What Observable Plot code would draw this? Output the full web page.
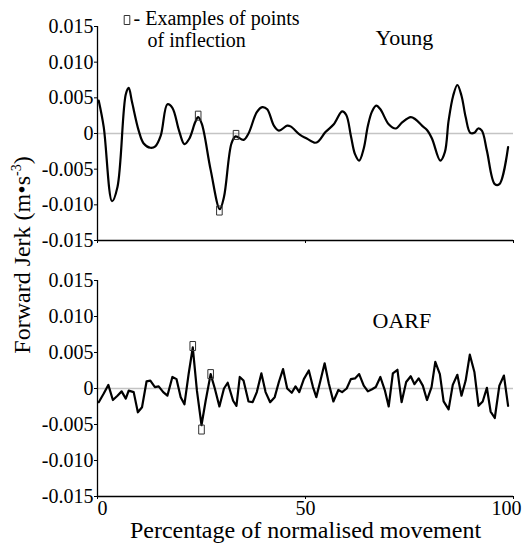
<!DOCTYPE html>
<html>
<head>
<meta charset="utf-8">
<script src="https://cdn.jsdelivr.net/npm/d3@7"></script>
<script src="https://cdn.jsdelivr.net/npm/@observablehq/plot@0.6"></script>
<style>
  html, body { margin: 0; padding: 0; background: #fff; }
  #wrap { position: relative; width: 526px; height: 545px; overflow: hidden; font-family: "Liberation Serif", "Times New Roman", serif; color: #000; }
  #top, #bottom { position: absolute; left: 0; }
  #top { top: 0; }
  #bottom { top: 255px; }
  #ytitle { position: absolute; left: 22px; top: 255px; transform: translate(-50%, -50%) rotate(-90deg); white-space: nowrap; font-family: "Liberation Serif", serif; font-size: 24px; line-height: 1; }
  #ytitle sup { font-size: 14px; vertical-align: 9px; line-height: 0; }
  svg text { font-family: "Liberation Serif", serif; }
</style>
</head>
<body>
<div id="wrap">
  <div id="top"></div>
  <div id="bottom"></div>
  <div id="ytitle">Forward Jerk (m•s<sup>-3</sup>)</div>
</div>
<script>
// ---- data ----
const youngX = [0.3,1.5,3.5,4.8,6.8,7.5,8.3,9.9,11.1,12.7,13.9,15.2,16.8,18.0,19.6,20.9,22.1,23.5,24.2,25.1,27.2,29.4,30.4,32.2,33.2,35.1,36.3,38.3,39.6,40.8,42.4,43.6,45.6,46.4,48.7,50.3,52.3,53.1,54.8,56.8,58.8,59.8,60.9,61.9,62.9,64.0,65.0,66.0,67.0,68.0,70.0,71.7,73.3,75.3,76.4,78.0,79.2,80.4,82.4,83.5,84.4,85.5,86.5,87.5,88.5,89.6,90.6,91.5,92.4,93.6,95.5,96.6,98.7];
const youngY = [0.0046,0.0009,-0.0095,-0.0075,0.0055,0.0064,0.0044,0.0004,-0.0014,-0.002,-0.0018,-0.0003,0.0041,0.0036,0.0004,-0.0015,-0.0007,0.0016,0.0023,0.0013,-0.0051,-0.0106,-0.0089,-0.0014,-0.0004,-0.0009,0,0.003,0.0037,0.0034,0.0011,0.0004,0.0011,0.001,-0.0002,-0.0007,-0.0013,-0.0011,0.0002,0.0013,0.0031,0.0026,-0.0003,-0.0029,-0.0038,-0.0021,0.0011,0.0031,0.0039,0.0034,0.0013,0.0007,0.0016,0.0023,0.002,0.0011,0.0005,-0.0007,-0.0038,-0.0026,0.0018,0.0053,0.0068,0.0053,0.0023,0.0001,0.0001,0.0007,0.0004,-0.0024,-0.0071,-0.0071,-0.0019];

const oarfX = [0.3,1.5,2.6,3.7,4.8,5.8,6.8,7.5,8.7,9.7,10.7,11.8,12.7,13.8,14.7,15.8,16.8,18.0,19.0,20.0,20.9,21.9,22.9,23.9,25.0,26.0,27.2,28.2,29.3,30.4,31.3,32.6,33.4,34.2,35.1,36.3,37.3,38.3,39.4,40.4,41.5,42.6,43.6,44.6,45.6,46.7,47.6,48.5,49.6,50.8,51.8,52.6,53.6,54.6,55.6,56.7,57.9,58.8,59.9,60.9,61.9,62.9,64.0,65.0,66.0,66.9,68.0,69.1,70.0,71.0,72.1,73.1,74.2,75.3,76.2,77.2,78.2,79.2,80.3,81.2,82.3,83.2,84.4,85.4,86.5,87.5,88.5,89.5,90.6,91.6,92.6,93.6,94.5,95.5,96.6,97.7,98.7];
const oarfY = [-0.0019,-0.0007,0.0005,-0.0016,-0.001,-0.0004,-0.0014,-0.0003,-0.0005,-0.0033,-0.0026,0.001,0.0011,0.0002,0.0003,-0.0005,-0.001,0.0016,0.0013,-0.0012,-0.0022,0.002,0.0057,-0.0003,-0.0051,-0.0017,0.002,0,-0.0025,0,0.0008,-0.0017,-0.0024,0.0016,0.0011,-0.0018,-0.0019,-0.0005,0.0021,-0.0005,-0.0019,-0.0012,0.0009,0.0027,0,-0.0006,0.0003,-0.0005,0.0013,0.0025,0.0002,-0.0012,0.0011,0.0035,0.0007,-0.0018,-0.0002,-0.0005,0,0.0013,0.0014,0.002,0.0004,-0.0004,-0.0001,0.0002,0.0016,-0.0003,-0.0025,0.0021,0.0026,-0.0019,0.0009,0.0017,0.0006,0.0014,0.0004,-0.0016,0.0002,0.0037,0.002,-0.0018,-0.0029,0.0005,0.0019,-0.001,0.0011,0.0047,0.0023,-0.0024,-0.0018,0.0001,-0.0032,-0.0041,0.0004,0.0018,-0.0024];

const youngInflX = [24.2, 29.3, 33.3];
const youngInflY = [0.0025, -0.0108, -0.0002];
const oarfInflX = [22.9, 25.0, 27.2];
const oarfInflY = [0.0059, -0.0057, 0.002];

const yTicks = [-0.015, -0.010, -0.005, 0, 0.005, 0.010, 0.015];
const xTicks = [0, 50, 100];
const xTickShift = [5, 0, -7];
const panelLabels = ["Young", "OARF"];
const legendLines = ["- Examples of points", "of inflection"];
const xTitle = "Percentage of normalised movement";

// ---- build ----
const young = youngX.map((x, i) => ({x, y: youngY[i]}));
const oarf = oarfX.map((x, i) => ({x, y: oarfY[i]}));
const youngInfl = youngInflX.map((x, i) => ({x, y: youngInflY[i]}));
const oarfInfl = oarfInflX.map((x, i) => ({x, y: oarfInflY[i]}));

const fmt = d => d === 0 ? "0" : d.toFixed(3);
const tallRect = { draw(ctx) { ctx.rect(-2.8, -4.5, 5.6, 9); } };
const font = "Liberation Serif";

function panel({data, infl, label, labelDx, labelDy, height, marginTop, marginBottom, bottom}) {
  const marks = [
    Plot.ruleY([0], {stroke: "#c4c4c4", strokeWidth: 1.5}),
    Plot.axisY({ticks: yTicks, tickFormat: fmt, tickSize: 3, tickPadding: 1, label: null, fontSize: 20, fontFamily: font}),
    Plot.axisX({ticks: xTicks, tickFormat: () => "", tickSize: 3, label: null}),
    Plot.ruleX([0], {stroke: "#000", strokeWidth: 1.3}),
    Plot.ruleY([-0.015], {stroke: "#000", strokeWidth: 1.3}),
    Plot.line(data, {x: "x", y: "y", stroke: "#000", strokeWidth: 2.2, curve: bottom ? "linear" : "catmull-rom"}),
    Plot.dot(infl, {x: "x", y: "y", symbol: tallRect, stroke: "#333", strokeWidth: 1, fill: "none"}),
    Plot.text([label], {frameAnchor: "top-left", textAnchor: "start", lineAnchor: "bottom", dx: labelDx, dy: labelDy, fontSize: 22, fontFamily: font})
  ];
  if (!bottom) {
    marks.push(
      Plot.text([legendLines[0]], {frameAnchor: "top-left", textAnchor: "start", lineAnchor: "bottom", dx: 36, dy: -2, fontSize: 20, fontFamily: font}),
      Plot.text([legendLines[1]], {frameAnchor: "top-left", textAnchor: "start", lineAnchor: "bottom", dx: 50, dy: 20, fontSize: 20, fontFamily: font}),
      Plot.dot([0], {frameAnchor: "top-left", dx: 29.5, dy: -6.5, symbol: tallRect, stroke: "#333", strokeWidth: 1, fill: "none"})
    );
  } else {
    xTicks.forEach((t, i) => {
      marks.push(Plot.text([t], {x: d => d, frameAnchor: "bottom", lineAnchor: "bottom", dy: 18, dx: xTickShift[i], text: d => String(d), fontSize: 20, fontFamily: font}));
    });
    marks.push(
      Plot.text([xTitle], {frameAnchor: "bottom", lineAnchor: "bottom", dy: 41, fontSize: 24, fontFamily: font})
    );
  }
  return Plot.plot({
    width: 526, height, marginLeft: 97, marginRight: 13, marginTop, marginBottom,
    x: {domain: [0, 100]},
    y: {domain: [-0.015, 0.015]},
    style: {fontFamily: font, fontSize: "20px", color: "#000", background: "transparent", overflow: "visible"},
    marks
  });
}

document.getElementById("top").append(panel({
  data: young, infl: youngInfl, label: panelLabels[0], labelDx: 278, labelDy: 18,
  height: 255, marginTop: 26, marginBottom: 15, bottom: false
}));
document.getElementById("bottom").append(panel({
  data: oarf, infl: oarfInfl, label: panelLabels[1], labelDx: 275, labelDy: 47,
  height: 290, marginTop: 25, marginBottom: 49, bottom: true
}));
</script>
</body>
</html>
